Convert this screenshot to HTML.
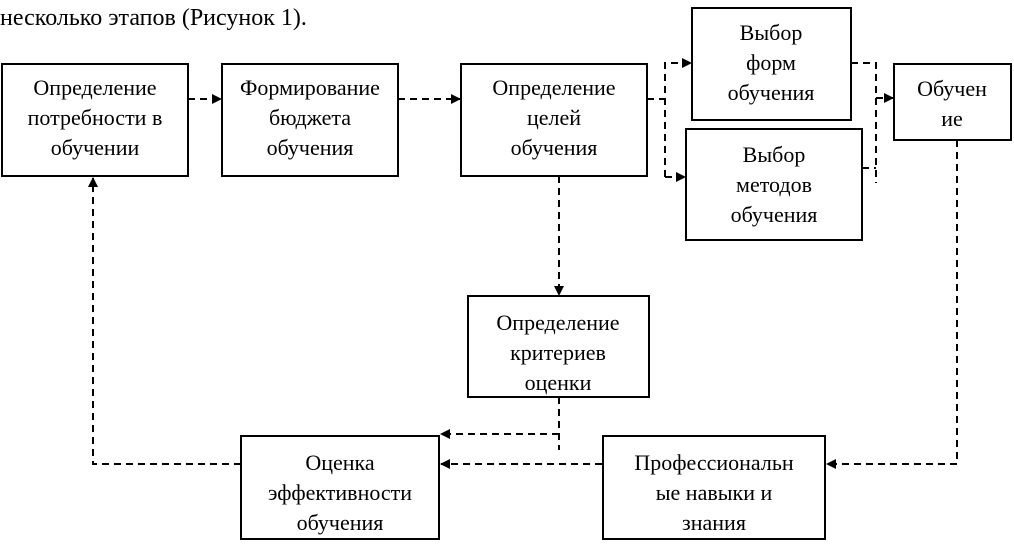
<!DOCTYPE html>
<html><head><meta charset="utf-8"><style>
body{margin:0;background:#fff;width:1014px;height:551px;overflow:hidden;font-family:'Liberation Serif','Times New Roman',serif}
svg{display:block}
text{font-family:'Liberation Serif','Times New Roman',serif;font-size:22px;fill:#000;text-anchor:middle}
.b{fill:none;stroke:#000;stroke-width:2}
.d{fill:none;stroke:#000;stroke-width:2;stroke-dasharray:7,5}
</style></head><body>
<svg width="1014" height="551" viewBox="0 0 1014 551">
<defs><marker id="a" markerWidth="10" markerHeight="10" refX="9" refY="5" orient="auto" markerUnits="userSpaceOnUse"><path d="M0,0 L10,5 L0,10Z" fill="#000"/></marker></defs>
<g font-family="Liberation Serif, Times New Roman, serif" font-size="22">
<text x="0" y="25" style="text-anchor:start;font-size:24px">несколько этапов (Рисунок 1).</text>
<rect class="b" x="2" y="64" width="186" height="112"/>
<text x="95" y="95">Определение</text><text x="95" y="125">потребности в</text><text x="95" y="155">обучении</text>
<rect class="b" x="222" y="64" width="176" height="112"/>
<text x="310" y="95">Формирование</text><text x="310" y="125">бюджета</text><text x="310" y="155">обучения</text>
<rect class="b" x="461" y="64" width="186" height="112"/>
<text x="554" y="95">Определение</text><text x="554" y="125">целей</text><text x="554" y="155">обучения</text>
<rect class="b" x="692" y="8" width="159" height="112"/>
<text x="771" y="40">Выбор</text><text x="771" y="70">форм</text><text x="771" y="100">обучения</text>
<rect class="b" x="686" y="129" width="176" height="111"/>
<text x="774" y="162">Выбор</text><text x="774" y="192">методов</text><text x="774" y="222">обучения</text>
<rect class="b" x="894" y="64" width="117" height="76"/>
<text x="952" y="96">Обучен</text><text x="952" y="126">ие</text>
<rect class="b" x="468" y="296" width="181" height="101"/>
<text x="558" y="330">Определение</text><text x="558" y="360">критериев</text><text x="558" y="390">оценки</text>
<rect class="b" x="603" y="436" width="222" height="103"/>
<text x="714" y="470">Профессиональн</text><text x="714" y="500">ые навыки и</text><text x="714" y="530">знания</text>
<rect class="b" x="241" y="436" width="198" height="103"/>
<text x="340" y="470">Оценка</text><text x="340" y="500">эффективности</text><text x="340" y="530">обучения</text>
</g>
<path class="d" d="M188,99 H221" marker-end="url(#a)"/>
<path class="d" d="M398,99 H460" marker-end="url(#a)"/>
<path class="d" d="M647,99 H665"/>
<path class="d" d="M665,177 V63 H691" marker-end="url(#a)"/>
<path class="d" d="M665,177 H685" marker-end="url(#a)"/>
<path class="d" d="M851,63 H876 V183"/>
<path class="d" d="M862,168 H876"/>
<path class="d" d="M876,98 H893" marker-end="url(#a)"/>
<path class="d" d="M559,176 V295" marker-end="url(#a)"/>
<path class="d" d="M559,397 V450"/>
<path class="d" d="M559,434 H441" marker-end="url(#a)"/>
<path class="d" d="M602,464 H441" marker-end="url(#a)"/>
<path class="d" d="M957,140 V464 H827" marker-end="url(#a)"/>
<path class="d" d="M241,464 H93 V178" marker-end="url(#a)"/>
</svg>
</body></html>
